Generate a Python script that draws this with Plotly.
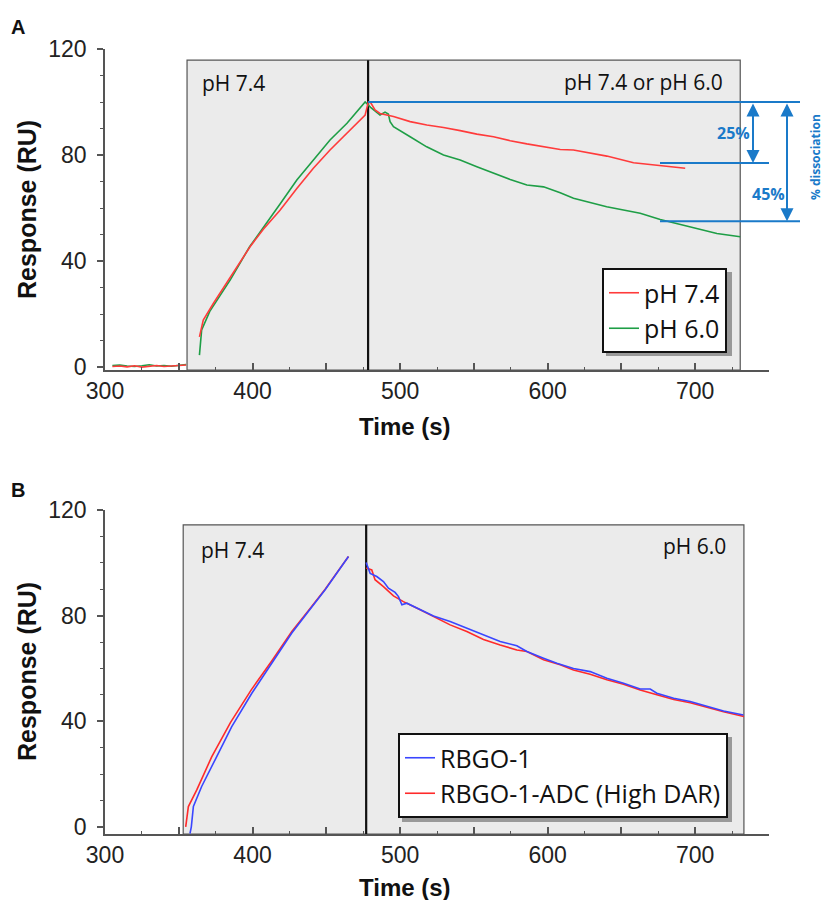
import plotly.graph_objects as go
from plotly.subplots import make_subplots

# ---- panel A : pH 7.4 vs pH 6.0 dissociation ----
base_t = [305, 310, 315, 320, 325, 330, 335, 340, 345, 350, 355]
base_red = [0.2, 0.4, 0.1, 0.5, 0.0, 0.3, 0.6, 0.2, 0.4, 0.5, 0.8]
base_green = [0.6, 0.8, 0.4, 0.2, 0.5, 0.9, 0.4, 0.6, 0.3, 0.7, 1.0]

a_red_t = [364, 366.6, 373.4, 384.7, 398.3, 407.3, 418.6, 430, 441.2, 452.5, 463.8, 476.3,
           478.5, 479.7, 483, 486.4, 495.5, 506.8, 518.1, 529.4, 540.7, 552, 563.3, 574.6,
           585.9, 597.2, 608.5, 617.5, 640.1, 658.2, 674, 693.2]
a_red_v = [11.4, 17.7, 24, 33.9, 45.4, 52.0, 59.2, 67.4, 75, 81.9, 88.2, 95.1,
           100.1, 100.1, 97, 95.7, 94.5, 92.6, 91.3, 90.4, 89.2, 87.9, 86.9, 85.4,
           84.2, 83.1, 82.1, 81.9, 79.6, 77.1, 76.2, 75]

a_green_t = [364, 365.5, 371, 385, 398, 407, 419, 430, 441, 452.5, 464, 476.3,
             480, 486.4, 489.8, 492, 493.2, 495.5, 506.8, 518, 529.4, 540.7, 552, 563.3,
             574.6, 585.9, 597.2, 608.5, 617.5, 640, 662.7, 676.3, 696.6, 714.7, 730.5]
a_green_v = [4.5, 14, 21, 33, 45.4, 52.3, 61.8, 70.6, 78.1, 85.7, 92, 100,
             98, 95.1, 96.2, 95.5, 92.6, 90.7, 86.9, 83.1, 80, 78.1, 75.6, 73.1,
             70.8, 68.7, 68, 65.8, 63.7, 60.5, 58, 55.7, 52.9, 50.4, 49.2]

# dissociation markers (RU)
level_top = 100
level_74 = 77
level_60 = 55

# ---- panel B : RBGO-1 vs ADC ----
b_blue_t = [357.6, 358.5, 359.9, 365.5, 374.6, 385.9, 399.5, 413, 426.6, 437.8, 449.2, 465,
            None,
            477, 479.7, 484.2, 488.7, 492.1, 496.6, 498.9, 501.2, 504.6, 513.6, 522.6, 533.9,
            545.2, 556.5, 567.8, 579.1, 585.9, 597.2, 606.2, 617.5, 628.8, 640.1, 651.4,
            662.7, 669.5, 674, 685.4, 696.6, 707.9, 719.2, 732.7]
b_blue_v = [-2.5, 0, 7.7, 15.3, 25.4, 38, 50.6, 62, 73.4, 81.6, 89.8, 102.4,
            None,
            100.1, 96, 94.8, 92.9, 90.4, 88.8, 87.2, 84.1, 84.7, 82.2, 79.9, 77.8,
            75.3, 72.7, 70.2, 68.6, 66.4, 63.9, 62, 60, 58.8, 56.3, 54.4,
            52.2, 52.2, 50.6, 48.7, 47.5, 45.6, 43.9, 42.4]

b_red_t = [354.7, 356.5, 362.2, 372.3, 385, 399, 413, 426.6, 437.8, 449.2, 465,
           None,
           477, 480.8, 483, 488.7, 495.5, 502.2, 513.6, 522.6, 533.9, 545.2, 556.5, 567.8,
           579.1, 585.9, 597.2, 608.5, 617.5, 628.8, 640.1, 651.4, 662.7, 674, 685.4,
           696.6, 707.9, 719.2, 733]
b_red_v = [0, 7.7, 14, 26.5, 39.5, 51.8, 62.8, 74, 81.8, 90, 102.4,
           None,
           98, 97.3, 93.6, 91, 87.5, 85.3, 82.2, 79.7, 76.5, 74, 71, 68.9,
           67, 66.4, 63.3, 61.4, 59.4, 57.8, 55.7, 54, 51.8, 50, 48.2,
           47, 45.2, 43.6, 41.8]

W, H = 823, 900
AX_FONT = "Liberation Sans, Arial, sans-serif"
TXT_FONT = "Open Sans, sans-serif"
BLUE = "#1a7ac9"

fig = make_subplots(rows=2, cols=1)

# baseline segments (no legend)
fig.add_trace(go.Scatter(x=base_t, y=base_green, mode="lines", line=dict(color="#1e9e46", width=1.6),
                         showlegend=False), row=1, col=1)
fig.add_trace(go.Scatter(x=base_t, y=base_red, mode="lines", line=dict(color="#ff3b3b", width=1.6),
                         showlegend=False), row=1, col=1)
fig.add_trace(go.Scatter(x=a_green_t, y=a_green_v, mode="lines", name="pH 6.0",
                         line=dict(color="#1e9e46", width=1.6), legend="legend", legendrank=2),
              row=1, col=1)
fig.add_trace(go.Scatter(x=a_red_t, y=a_red_v, mode="lines", name="pH 7.4",
                         line=dict(color="#ff3b3b", width=1.6), legend="legend", legendrank=1),
              row=1, col=1)

fig.add_trace(go.Scatter(x=b_red_t, y=b_red_v, mode="lines", name="RBGO-1-ADC (High DAR)",
                         line=dict(color="#ff2a2a", width=1.6), legend="legend2", legendrank=2,
                         connectgaps=False), row=2, col=1)
fig.add_trace(go.Scatter(x=b_blue_t, y=b_blue_v, mode="lines", name="RBGO-1",
                         line=dict(color="#3a46ff", width=1.6), legend="legend2", legendrank=1,
                         connectgaps=False), row=2, col=1)

# axes
xa = dict(range=[300, 750], tickvals=list(range(300, 751, 50)),
          ticktext=["300", "", "400", "", "500", "", "600", "", "700", ""],
          ticks="inside", ticklen=7, tickwidth=1.5, tickcolor="#555",
          minor=dict(tick0=300, dtick=25, ticks="inside", ticklen=3, tickcolor="#555", tickwidth=1),
          showline=True, linecolor="#555", linewidth=1.5, showgrid=False, zeroline=False,
          tickfont=dict(family=AX_FONT, size=23, color="#222"), ticklabelstandoff=0,
          automargin=False, domain=[105 / W, 769 / W])
ya = dict(tickvals=[0, 40, 80, 120], ticks="outside", ticklen=6, tickwidth=1.5, tickcolor="#555",
          minor=dict(tick0=0, dtick=10, ticks="outside", ticklen=3, tickcolor="#555", tickwidth=1),
          showline=True, linecolor="#555", linewidth=1.5, showgrid=False, zeroline=False,
          tickfont=dict(family=AX_FONT, size=23, color="#222"), ticklabelstandoff=6,
          automargin=False)
fig.update_layout(xaxis=xa, xaxis2=xa)
fig.update_layout(yaxis=dict(ya, range=[-1.1, 120], domain=[1 - 370 / H, 1 - 49 / H]),
                  yaxis2=dict(ya, range=[-2.7, 120], domain=[1 - 834 / H, 1 - 510 / H]))

# shaded phases + injection switch line
for xr, yr, box, switch in [("x", "y", (355.6, 730.5, -1.1, 115.8), 478.3),
                            ("x2", "y2", (353, 733, -2.7, 114.4), 477)]:
    fig.add_shape(type="rect", xref=xr, yref=yr, x0=box[0], x1=box[1], y0=box[2], y1=box[3],
                  fillcolor="#ebebeb", line=dict(color="#555", width=1.2), layer="below")
    fig.add_shape(type="line", xref=xr, yref=yr, x0=switch, x1=switch, y0=box[2], y1=box[3],
                  line=dict(color="#111", width=2.2), layer="below")

# phase labels
phase_labels = [("x", "y", 364.4, 107, "pH 7.4", "left"),
                ("x", "y", 720, 107.5, "pH 7.4 or pH 6.0", "right"),
                ("x2", "y2", 363.7, 105, "pH 7.4", "left"),
                ("x2", "y2", 722.4, 106.4, "pH 6.0", "right")]
for xr, yr, x, y, txt, anc in phase_labels:
    fig.add_annotation(xref=xr, yref=yr, x=x, y=y, text=txt, showarrow=False, xanchor=anc,
                       yanchor="middle", font=dict(family=TXT_FONT, size=21, color="#111"))


def note(xp, yp, text, size, color="#111", family=AX_FONT, angle=0):
    # paper-positioned text, given in page pixels, centred on the point
    fig.add_annotation(xref="paper", yref="paper", x=xp / W, y=1 - yp / H, text=text,
                       showarrow=False, textangle=angle, xanchor="center", yanchor="middle",
                       font=dict(family=family, size=size, color=color))


# % dissociation guides (panel A)
fig.add_shape(type="line", xref="paper", yref="y", x0=368 / W, x1=800 / W,
              y0=level_top, y1=level_top, line=dict(color=BLUE, width=2))
fig.add_shape(type="line", xref="paper", yref="y", x0=660 / W, x1=769 / W, y0=level_74, y1=level_74,
              line=dict(color=BLUE, width=2))
fig.add_shape(type="line", xref="paper", yref="y", x0=660 / W, x1=800 / W,
              y0=level_60, y1=level_60, line=dict(color=BLUE, width=2))
for xp, ylo in [(753, level_74), (787, level_60)]:
    fig.add_annotation(xref="paper", yref="y", x=xp / W, y=ylo, axref="pixel", ayref="y",
                       ax=0, ay=level_top, text="", showarrow=True, arrowside="end+start",
                       arrowhead=2, arrowsize=1.3, arrowwidth=2, arrowcolor=BLUE,
                       standoff=0, startstandoff=0)
note(733, 133, "<b>25%</b>", 16, BLUE, TXT_FONT)
note(768, 194, "<b>45%</b>", 16, BLUE, TXT_FONT)
note(816, 157, "<b>% dissociation</b>", 12, BLUE, TXT_FONT, angle=-90)

# axis titles and panel letters
note(27, 210, "<b>Response (RU)</b>", 25, angle=-90)
note(27, 672, "<b>Response (RU)</b>", 25, angle=-90)
note(405, 426, "<b>Time (s)</b>", 24)
note(405, 887, "<b>Time (s)</b>", 24)
note(18, 27, "<b>A</b>", 20)
note(18, 490, "<b>B</b>", 20)

# legend shadows
fig.add_shape(type="rect", xref="paper", yref="paper", x0=606 / W, x1=732 / W,
              y0=1 - 356 / H, y1=1 - 272 / H, fillcolor="rgba(0,0,0,0.35)", line_width=0)
fig.add_shape(type="rect", xref="paper", yref="paper", x0=402 / W, x1=732 / W,
              y0=1 - 822 / H, y1=1 - 737 / H, fillcolor="rgba(0,0,0,0.35)", line_width=0)

leg = dict(bgcolor="white", bordercolor="#111", borderwidth=2, xanchor="left", yanchor="top",
           font=dict(family=TXT_FONT, size=25, color="#111"), itemwidth=30)
fig.update_layout(
    legend=dict(leg, x=602 / W, y=1 - 268 / H),
    legend2=dict(leg, x=398 / W, y=1 - 733 / H),
    width=W, height=H, margin=dict(l=0, r=0, t=0, b=0, autoexpand=False),
    paper_bgcolor="white", plot_bgcolor="white",
)

fig.write_html("out.html", config={"displayModeBar": False},
               post_script="document.body.style.margin='0px';")
